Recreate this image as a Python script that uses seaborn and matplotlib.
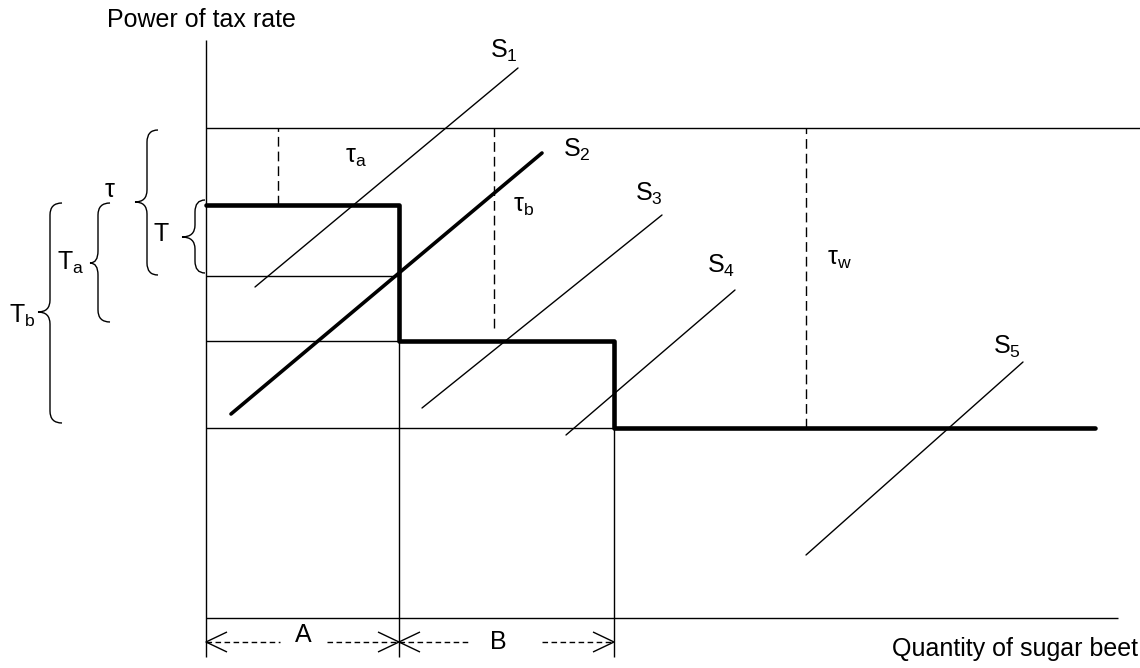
import matplotlib
matplotlib.use("Agg")
import matplotlib.pyplot as plt
from matplotlib.path import Path
from matplotlib.patches import PathPatch
import pandas as pd
import seaborn as sns

# diagram values (horizontal: quantity, vertical: power of tax rate)
quantity_breaks = [0, 193, 408, 889]      # start, end of A, end of B, end of world line
tax_levels = [413, 277, 190]              # T_a step, T_b step, world level
tau_level = 490
t_lower = 342
dashed_q = [72, 288, 600]
dashed_top = [490, 490, 490]
dashed_bottom = [413, 290, 190]

supply_names = ["S1", "S2", "S3", "S4", "S5"]
supply_q0 = [49, 25, 216, 360, 600]
supply_p0 = [331, 204, 210, 183, 63]
supply_q1 = [312, 336, 456, 529, 817]
supply_p1 = [550, 465, 403, 328, 256]

sns.set_theme(style="white")
plt.rcParams["font.family"] = ["Liberation Sans", "DejaVu Sans"]
plt.rcParams["text.color"] = "black"
plt.rcParams["mathtext.fontset"] = "custom"
plt.rcParams["mathtext.rm"] = "Liberation Sans"
plt.rcParams["mathtext.it"] = "Liberation Sans"
plt.rcParams["mathtext.default"] = "regular"

fig = plt.figure(figsize=(11.4, 6.68), dpi=100)
ax = fig.add_axes([0, 0, 1, 1])
ax.set_xlim(-206, 934)
ax.set_ylim(-50, 618)
ax.axis("off")

thin = dict(color="black", lw=1.0, solid_capstyle="butt")
fs = 18

# frame lines
ax.plot([0, 0], [-39, 578], **thin)
ax.plot([0, 934], [tau_level, tau_level], **thin)
ax.plot([0, 912], [0, 0], **thin)
ax.plot([0, quantity_breaks[1]], [t_lower, t_lower], **thin)
for q, p in zip(quantity_breaks[1:3], tax_levels[1:]):
    ax.plot([0, q], [p, p], **thin)
    ax.plot([q, q], [-39, p], **thin)

# dashed tax gaps
for q, top, bot in zip(dashed_q, dashed_top, dashed_bottom):
    ax.plot([q, q], [bot, top], color="black", lw=1.0, ls=(0, (7, 3.6)))

# supply curves
supply = pd.DataFrame({
    "curve": supply_names * 2,
    "q": supply_q0 + supply_q1,
    "p": supply_p0 + supply_p1,
})
thin_supply = supply[supply["curve"] != "S2"]
sns.lineplot(data=thin_supply, x="q", y="p", units="curve", estimator=None,
             color="black", lw=1.0, ax=ax, legend=False)
sns.lineplot(data=supply[supply["curve"] == "S2"], x="q", y="p",
             estimator=None, color="black", lw=2.6, ax=ax, legend=False)

# tax-rate step function
step_q = [quantity_breaks[0], quantity_breaks[1], quantity_breaks[1],
          quantity_breaks[2], quantity_breaks[2], quantity_breaks[3]]
step_p = [tax_levels[0], tax_levels[0], tax_levels[1],
          tax_levels[1], tax_levels[2], tax_levels[2]]
step = pd.DataFrame({"q": step_q, "p": step_p})
sns.lineplot(data=step, x="q", y="p", sort=False, estimator=None,
             color="black", lw=3.3, ax=ax, legend=False)


def brace(x, y_top, y_bot, y_tip, arm, reach, r=12):
    verts = [(x + arm, y_top), (x, y_top), (x, y_top - r),
             (x, y_tip + r), (x, y_tip), (x - reach, y_tip),
             (x, y_tip), (x, y_tip - r),
             (x, y_bot + r), (x, y_bot), (x + arm, y_bot)]
    codes = [Path.MOVETO, Path.CURVE3, Path.CURVE3, Path.LINETO,
             Path.CURVE3, Path.CURVE3, Path.CURVE3, Path.CURVE3,
             Path.LINETO, Path.CURVE3, Path.CURVE3]
    ax.add_patch(PathPatch(Path(verts, codes), fill=False, lw=1.0, color="black"))


brace(-59, 488, 343, 416, 11, 12)
brace(-11, 418, 345, 381, 10, 13)
brace(-108, 415, 296, 355, 12, 8)
brace(-156, 415, 195, 306, 12, 12)

ax.text(-96, 428, r"$\tau$", fontsize=fs, ha="center", va="center")
ax.text(-45, 384, "T", fontsize=fs, ha="center", va="center")
ax.text(-149, 355, "T$_a$", fontsize=fs, ha="left", va="center")
ax.text(-197, 302, "T$_b$", fontsize=fs, ha="left", va="center")

# curve labels
label_pos = [(284, 567), (357, 468), (429, 424), (501, 352), (787, 271)]
for name, (x, y) in zip(supply_names, label_pos):
    ax.text(x, y, f"S$_{name[1]}$", fontsize=fs, ha="left", va="center")
ax.text(139, 461, r"$\tau_a$", fontsize=fs, ha="left", va="center")
ax.text(307, 412, r"$\tau_b$", fontsize=fs, ha="left", va="center")
ax.text(621, 359, r"$\tau_w$", fontsize=fs, ha="left", va="center")

# axis titles
ax.text(-99, 598, "Power of tax rate", fontsize=fs, ha="left", va="center")
ax.text(932, -31, "Quantity of sugar beet", fontsize=fs, ha="right", va="center")

# quota ranges A and B
arrow_y = -24
dash = dict(color="black", lw=1.0, ls=(0, (4, 2.5)))
ax.plot([0, 74], [arrow_y, arrow_y], **dash)
ax.plot([121, 193], [arrow_y, arrow_y], **dash)
ax.plot([193, 264], [arrow_y, arrow_y], **dash)
ax.plot([336, 408], [arrow_y, arrow_y], **dash)
for tip, d in [(0, 1), (193, -1), (193, 1), (408, -1)]:
    ax.plot([tip + 21 * d, tip, tip + 21 * d],
            [arrow_y + 10, arrow_y, arrow_y - 10], **thin)
ax.text(97, -17, "A", fontsize=fs, ha="center", va="center")
ax.text(292, -24, "B", fontsize=fs, ha="center", va="center")

fig.savefig("out.png", dpi=100)
